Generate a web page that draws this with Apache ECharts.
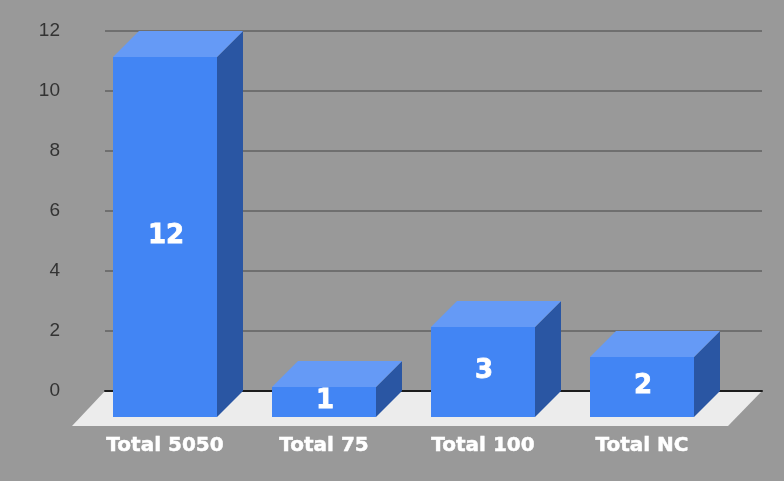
<!DOCTYPE html>
<html>
<head>
<meta charset="utf-8">
<title>Totals</title>
<style>
  html, body { margin: 0; padding: 0; background: #999999; }
  #chart { width: 784px; height: 481px; }
</style>
<script src="https://cdn.jsdelivr.net/npm/echarts@6/dist/echarts.min.js"></script>
</head>
<body>
<div id="chart"></div>
<script>
// Data
const categories = ['Total 5050', 'Total 75', 'Total 100', 'Total NC']
const values = [12, 1, 3, 2]
const yTicks = { min: 0, max: 12, interval: 2 }

// Colors
const colors = {
  background: '#999999',
  front: '#4285f4',
  top: '#659af6',
  side: '#2a56a3',
  floor: '#ececec',
  grid: '#6f6f6f',
  zero: '#1c1c1c',
  tick: '#333333'
}

// Fake 3D offset between front and back plane (px)
const depth = 26
const barWidth = 104
const floorFront = 35

const chart = echarts.init(document.getElementById('chart'))

// Floor under the bars
const renderFloor = (params, api) => {
  const rect = params.coordSys
  const y = api.coord([0, 0])[1]
  return {
    type: 'polygon',
    shape: {
      points: [
        [rect.x, y],
        [rect.x + rect.width, y],
        [rect.x + rect.width - floorFront + 1, y + floorFront],
        [rect.x - floorFront + 2, y + floorFront]
      ]
    },
    style: { fill: colors.floor }
  }
}

// One box: side, top, front, then the value on the front face
const renderBox = (params, api) => {
  const top = api.coord([api.value(0), api.value(1)])
  const base = api.coord([api.value(0), 0])
  const left = Math.round(top[0] - barWidth / 2)
  const right = left + barWidth
  const frontTop = top[1] + depth
  const frontBottom = base[1] + depth
  return {
    type: 'group',
    children: [
      {
        type: 'polygon',
        shape: { points: [[right, frontTop], [right + depth, top[1]], [right + depth, base[1]], [right, frontBottom]] },
        style: { fill: colors.side }
      },
      {
        type: 'polygon',
        shape: { points: [[left, frontTop], [left + depth, top[1]], [right + depth, top[1]], [right, frontTop]] },
        style: { fill: colors.top }
      },
      {
        type: 'rect',
        shape: { x: left, y: frontTop, width: barWidth, height: frontBottom - frontTop },
        style: { fill: colors.front }
      },
      {
        type: 'text',
        style: {
          x: top[0] + 1,
          y: (frontTop + frontBottom) / 2 - 0.5,
          text: String(api.value(1)),
          fill: '#ffffff',
          stroke: '#ffffff',
          lineWidth: 0.8,
          font: 'bold 26px "DejaVu Sans"',
          align: 'center',
          verticalAlign: 'middle'
        }
      }
    ]
  }
}

const option = {
  backgroundColor: colors.background,
  animation: false,
  grid: [
    // back plane: gridlines and y axis
    { left: 105, top: 31, width: 657, height: 360 },
    // front plane: bars and category labels
    { left: 85.5, top: 31, width: 636, height: 360 }
  ],
  xAxis: [
    {
      type: 'category',
      gridIndex: 0,
      data: categories,
      axisLabel: { show: false },
      axisTick: { show: false },
      axisLine: { show: true, onZero: true, lineStyle: { color: colors.zero, width: 2 } },
      z: 3
    },
    {
      type: 'category',
      gridIndex: 1,
      data: categories,
      axisLine: { show: false },
      axisTick: { show: false },
      axisLabel: {
        color: '#ffffff',
        fontFamily: 'DejaVu Sans',
        fontWeight: 'bold',
        fontSize: 20,
        textBorderColor: '#ffffff',
        textBorderWidth: 0.5,
        margin: 45,
        interval: 0
      }
    }
  ],
  yAxis: [
    {
      type: 'value',
      gridIndex: 0,
      min: yTicks.min,
      max: yTicks.max,
      interval: yTicks.interval,
      axisLine: { show: false },
      axisTick: { show: false },
      axisLabel: {
        color: colors.tick,
        fontFamily: 'Liberation Sans',
        fontSize: 19,
        margin: 45
      },
      splitLine: { show: true, lineStyle: { color: colors.grid, width: 2 } }
    },
    {
      type: 'value',
      gridIndex: 1,
      min: yTicks.min,
      max: yTicks.max,
      interval: yTicks.interval,
      show: false
    }
  ],
  series: [
    {
      type: 'custom',
      name: 'floor',
      xAxisIndex: 0,
      yAxisIndex: 0,
      data: [[0, 0]],
      renderItem: renderFloor,
      clip: false,
      silent: true,
      z: 1
    },
    {
      type: 'custom',
      name: 'Total',
      xAxisIndex: 1,
      yAxisIndex: 1,
      data: values.map((v, i) => [i, v]),
      encode: { x: 0, y: 1 },
      renderItem: renderBox,
      clip: false,
      z: 5
    }
  ]
}

chart.setOption(option)
</script>
</body>
</html>
